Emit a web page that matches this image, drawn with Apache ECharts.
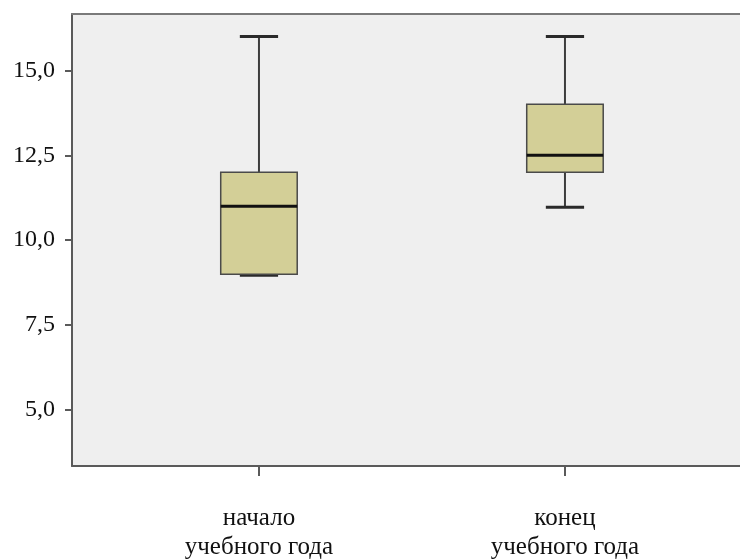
<!DOCTYPE html>
<html>
<head>
<meta charset="utf-8">
<script src="https://cdn.jsdelivr.net/npm/echarts@6/dist/echarts.min.js"></script>
<style>
  html, body { margin: 0; padding: 0; background: #fff; }
  #chart { width: 740px; height: 559px; }
</style>
</head>
<body>
<div id="chart"></div>
<script>
// группы (ось X) и пятичисловая сводка для каждой
var categories = ['начало\nучебного года', 'конец\nучебного года'];
var minVals = [9, 11];
var q1Vals = [9, 12];
var medianVals = [11, 12.5];
var q3Vals = [12, 14];
var maxVals = [16, 16];
var yTicks = [5, 7.5, 10, 12.5, 15];

// позиции групп на оси X: 1, 2
var xTicks = categories.map(function (c, i) { return i + 1; });

var boxData = [];
for (var i = 0; i < categories.length; i++) {
    boxData.push([i + 1, minVals[i], q1Vals[i], medianVals[i], q3Vals[i], maxVals[i]]);
}

function renderBox(params, api) {
    var x = api.value(0);
    var pMin = api.coord([x, api.value(1)]);
    var pQ1 = api.coord([x, api.value(2)]);
    var pMed = api.coord([x, api.value(3)]);
    var pQ3 = api.coord([x, api.value(4)]);
    var pMax = api.coord([x, api.value(5)]);
    var band = api.size([1, 0])[0];
    var bw = band * 0.25;     // ширина ящика
    var cw = band * 0.125;    // ширина "усов"
    var cx = pMed[0];
    var lineSt = { stroke: '#3c3c3c', lineWidth: 2 };
    return {
        type: 'group',
        children: [
            { type: 'line', shape: { x1: cx, y1: pMax[1], x2: cx, y2: pQ3[1] }, style: lineSt },
            { type: 'line', shape: { x1: cx, y1: pQ1[1], x2: cx, y2: pMin[1] }, style: lineSt },
            { type: 'line', shape: { x1: cx - cw / 2, y1: pMax[1], x2: cx + cw / 2, y2: pMax[1] }, style: { stroke: '#2a2a2a', lineWidth: 3 } },
            { type: 'line', shape: { x1: cx - cw / 2, y1: pMin[1] + 1, x2: cx + cw / 2, y2: pMin[1] + 1 }, style: { stroke: '#2a2a2a', lineWidth: 3 } },
            { type: 'rect', shape: { x: cx - bw / 2, y: pQ3[1], width: bw, height: pQ1[1] - pQ3[1] },
              style: { fill: '#d3cf97', stroke: '#4a4a4a', lineWidth: 1.5 } },
            { type: 'line', shape: { x1: cx - bw / 2, y1: pMed[1], x2: cx + bw / 2, y2: pMed[1] }, style: { stroke: '#111', lineWidth: 3 } }
        ]
    };
}

var myChart = echarts.init(document.getElementById('chart'));
myChart.setOption({
    animation: false,
    backgroundColor: '#fff',
    grid: {
        left: 72, top: 14, right: 0, bottom: 93,
        outerBoundsMode: 'none',
        show: true,
        backgroundColor: '#efefef',
        borderWidth: 0
    },
    xAxis: [{
        type: 'value',
        min: 0.389,
        max: 2.572,
        splitLine: { show: false },
        axisLine: { show: true, onZero: false, lineStyle: { color: '#5a5a5a', width: 2 } },
        axisTick: { show: true, length: 10, customValues: xTicks, lineStyle: { color: '#5a5a5a', width: 2 } },
        axisLabel: {
            customValues: xTicks,
            margin: 38,
            color: '#111',
            fontFamily: 'Liberation Serif',
            fontSize: 25,
            lineHeight: 29,
            formatter: function (v) { return categories[Math.round(v) - 1] || ''; }
        }
    }, {
        // верхняя рамка области построения
        type: 'value',
        position: 'top',
        min: 0.389,
        max: 2.572,
        splitLine: { show: false },
        axisLine: { show: true, onZero: false, lineStyle: { color: '#7a7a7a', width: 2 } },
        axisTick: { show: false },
        axisLabel: { show: false }
    }],
    yAxis: {
        type: 'value',
        min: 3.35,
        max: 16.66,
        splitLine: { show: false },
        axisLine: { show: true, lineStyle: { color: '#5a5a5a', width: 2 } },
        axisTick: { show: true, length: 7, customValues: yTicks, lineStyle: { color: '#5a5a5a', width: 2 } },
        axisLabel: {
            customValues: yTicks,
            margin: 17,
            color: '#111',
            fontFamily: 'Liberation Serif',
            fontSize: 24,
            formatter: function (v) { return v.toFixed(1).replace('.', ','); }
        }
    },
    series: [{
        type: 'custom',
        renderItem: renderBox,
        encode: { x: 0, y: [1, 2, 3, 4, 5] },
        data: boxData
    }]
});
</script>
</body>
</html>
